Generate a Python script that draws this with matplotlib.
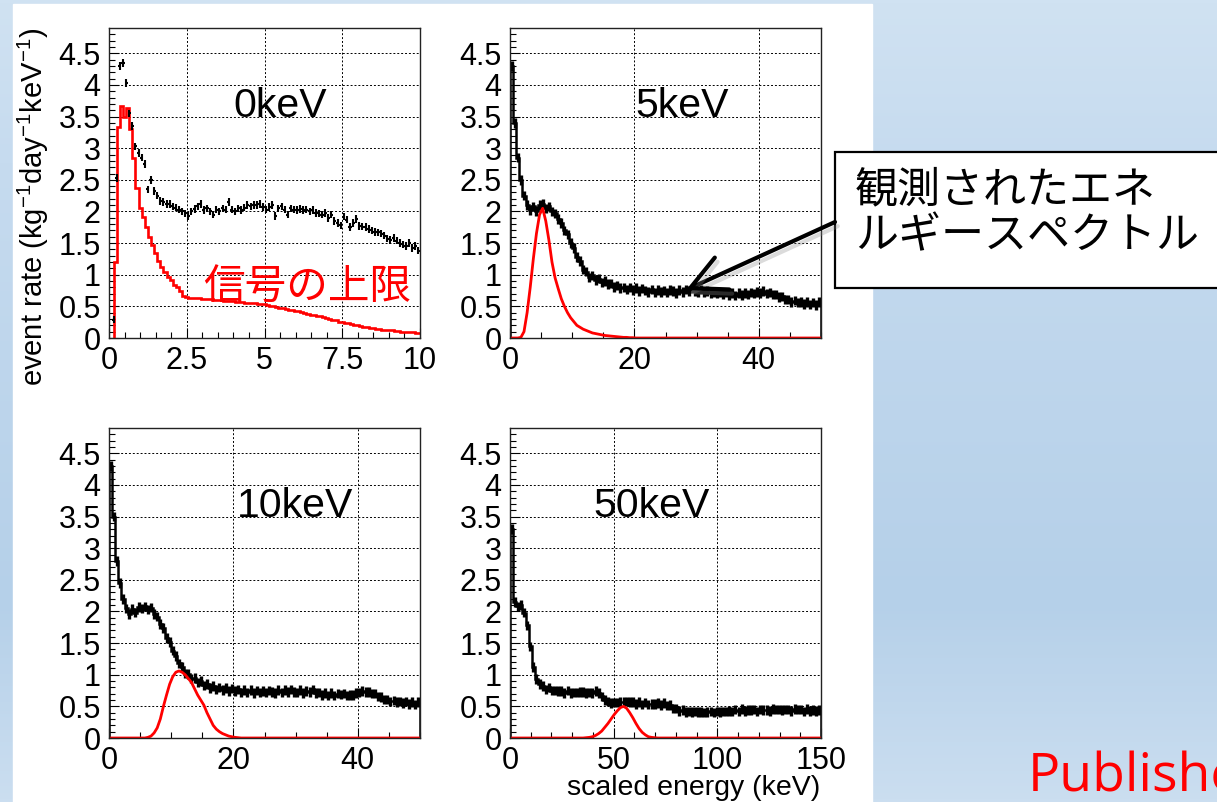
import numpy as np
import matplotlib
matplotlib.use("Agg")
import matplotlib.pyplot as plt
from matplotlib.patches import Rectangle, FancyArrowPatch
from matplotlib.colors import LinearSegmentedColormap
import matplotlib.patheffects as pe

plt.rcParams["font.family"] = ["Liberation Sans", "Noto Sans CJK JP"]
plt.rcParams["mathtext.fontset"] = "custom"
plt.rcParams["mathtext.rm"] = "Liberation Sans"
plt.rcParams["mathtext.it"] = "Liberation Sans"
plt.rcParams["mathtext.bf"] = "Liberation Sans:bold"

W, H = 1217, 802

# ── Data ─────────────────────────────────────────────────────────────────────
# 0 keV panel: 0.1 keV bins starting at 0.15 keV
P0_START, P0_WIDTH = 0.15, 0.1
P0_BLACK = [0.29, 2.53, 4.30, 4.35, 4.03, 3.55, 3.35, 3.03, 2.92, 2.85,
            2.75, 2.35, 2.50, 2.32, 2.25, 2.17, 2.15, 2.12, 2.12, 2.08,
            2.06, 2.03, 2.00, 1.97, 1.93, 2.00, 2.04, 2.08, 2.12, 2.02,
            2.05, 2.00, 1.95, 2.03, 2.00, 2.05, 2.03, 2.15, 2.03, 2.00,
            2.05, 2.02, 2.06, 2.10, 2.08, 2.10, 2.10, 2.12, 2.07, 2.03,
            2.07, 2.10, 1.93, 2.05, 2.08, 2.03, 1.95, 2.05, 2.03, 2.02,
            2.04, 2.02, 2.03, 2.00, 2.02, 1.98, 1.97, 1.95, 1.98, 1.90,
            1.95, 1.85, 1.82, 1.78, 1.92, 1.87, 1.75, 1.82, 1.88, 1.77,
            1.76, 1.75, 1.72, 1.70, 1.68, 1.67, 1.65, 1.62, 1.57, 1.55,
            1.58, 1.54, 1.50, 1.48, 1.45, 1.50, 1.42, 1.45, 1.38]
P0_RED = [1.20, 3.34, 3.66, 3.50, 3.63, 3.30, 2.84, 2.37, 2.05, 1.92,
          1.76, 1.60, 1.47, 1.34, 1.21, 1.13, 1.05, 0.97, 0.92, 0.84,
          0.80, 0.74, 0.67, 0.65, 0.64, 0.63, 0.63, 0.63, 0.62, 0.62,
          0.61, 0.61, 0.60, 0.60, 0.60, 0.59, 0.59, 0.58, 0.58, 0.57,
          0.57, 0.57, 0.56, 0.56, 0.55, 0.55, 0.54, 0.54, 0.53, 0.52,
          0.51, 0.50, 0.49, 0.48, 0.47, 0.46, 0.45, 0.44, 0.43, 0.42,
          0.41, 0.39, 0.38, 0.37, 0.36, 0.35, 0.34, 0.33, 0.31, 0.30,
          0.29, 0.28, 0.26, 0.25, 0.24, 0.23, 0.22, 0.21, 0.20, 0.19,
          0.18, 0.17, 0.16, 0.16, 0.15, 0.14, 0.13, 0.13, 0.12, 0.12,
          0.11, 0.11, 0.10, 0.10, 0.10, 0.09, 0.09, 0.08, 0.08]
P0_ERR = 0.06

# 5 keV panel: 0.5 keV bins, 0-50 keV
P5_BLACK = [4.30, 3.40, 2.85, 2.50, 2.25, 2.10, 2.02, 2.08, 2.01, 2.10,
            2.12, 2.05, 2.08, 2.00, 1.97, 1.88, 1.82, 1.70, 1.64, 1.50,
            1.42, 1.28, 1.22, 1.08, 1.05, 0.96, 0.99, 0.92, 0.94, 0.88,
            0.90, 0.85, 0.86, 0.81, 0.83, 0.79, 0.80, 0.77, 0.80, 0.76,
            0.79, 0.74, 0.78, 0.75, 0.73, 0.77, 0.72, 0.76, 0.73, 0.75,
            0.72, 0.76, 0.74, 0.71, 0.76, 0.73, 0.77, 0.74, 0.78, 0.74,
            0.73, 0.77, 0.72, 0.74, 0.71, 0.73, 0.70, 0.72, 0.69, 0.72,
            0.68, 0.71, 0.67, 0.71, 0.68, 0.71, 0.69, 0.72, 0.70, 0.73,
            0.71, 0.74, 0.70, 0.72, 0.69, 0.69, 0.65, 0.66, 0.61, 0.61,
            0.57, 0.59, 0.56, 0.57, 0.54, 0.57, 0.53, 0.56, 0.52, 0.57]
P5_RED = ([0.0, 0.0, 0.0] +
          [0.01, 0.10, 0.40, 0.80, 1.25, 1.65, 1.95, 2.05, 1.85, 1.55,
           1.20, 0.95, 0.78, 0.62, 0.50, 0.40, 0.32, 0.26, 0.20, 0.17,
           0.14, 0.12, 0.10, 0.08, 0.07, 0.06, 0.05, 0.04, 0.035, 0.03,
           0.025, 0.02, 0.015, 0.01, 0.01, 0.005, 0.005] +
          [0.0] * 60)

# 10 keV panel: 0.5 keV bins, 0-50 keV
P10_BLACK = [4.30, 3.50, 2.80, 2.45, 2.20, 2.05, 1.96, 2.04, 1.98, 2.07,
             2.05, 2.08, 2.03, 2.06, 1.96, 1.92, 1.80, 1.74, 1.58, 1.52,
             1.38, 1.30, 1.18, 1.12, 1.02, 1.01, 0.94, 0.95, 0.88, 0.90,
             0.83, 0.85, 0.79, 0.82, 0.77, 0.80, 0.76, 0.79, 0.74, 0.78,
             0.74, 0.77, 0.72, 0.76, 0.72, 0.76, 0.71, 0.75, 0.72, 0.74,
             0.72, 0.75, 0.73, 0.71, 0.76, 0.72, 0.76, 0.73, 0.77, 0.73,
             0.72, 0.76, 0.71, 0.74, 0.73, 0.77, 0.71, 0.72, 0.68, 0.71,
             0.67, 0.71, 0.67, 0.70, 0.69, 0.70, 0.67, 0.68, 0.68, 0.71,
             0.72, 0.74, 0.73, 0.73, 0.70, 0.70, 0.66, 0.65, 0.61, 0.61,
             0.58, 0.59, 0.57, 0.58, 0.55, 0.58, 0.54, 0.57, 0.53, 0.57]
P10_RED = ([0.0] * 12 +
           [0.01, 0.03, 0.08, 0.16, 0.30, 0.50, 0.68, 0.85, 0.97, 1.04,
            1.06, 1.04, 1.00, 0.94, 0.88, 0.78, 0.68, 0.60, 0.52, 0.40,
            0.30, 0.20, 0.14, 0.10, 0.07, 0.05, 0.03, 0.02, 0.01, 0.005] +
           [0.0] * 58)

# 50 keV panel: 1.5 keV bins, 0-150 keV
P50_BLACK = [3.30, 2.15, 2.08, 2.10, 1.98, 1.78, 1.45, 1.12, 0.93, 0.85,
             0.82, 0.77, 0.80, 0.75, 0.75, 0.74, 0.74, 0.71, 0.75, 0.71,
             0.72, 0.72, 0.73, 0.73, 0.71, 0.72, 0.71, 0.74, 0.71, 0.66,
             0.60, 0.58, 0.55, 0.56, 0.56, 0.57, 0.57, 0.58, 0.57, 0.57,
             0.54, 0.57, 0.53, 0.56, 0.53, 0.54, 0.54, 0.55, 0.52, 0.55,
             0.51, 0.52, 0.47, 0.47, 0.43, 0.44, 0.41, 0.42, 0.41, 0.42,
             0.41, 0.41, 0.40, 0.41, 0.42, 0.40, 0.42, 0.41, 0.42, 0.42,
             0.43, 0.42, 0.45, 0.42, 0.46, 0.43, 0.44, 0.44, 0.45, 0.42,
             0.45, 0.44, 0.44, 0.43, 0.46, 0.45, 0.45, 0.44, 0.45, 0.45,
             0.43, 0.46, 0.45, 0.45, 0.42, 0.46, 0.43, 0.44, 0.43, 0.44]
P50_RED = ([0.0] * 24 +
           [0.005, 0.01, 0.02, 0.04, 0.07, 0.11, 0.17, 0.23, 0.30, 0.37,
            0.43, 0.48, 0.50, 0.47, 0.40, 0.32, 0.23, 0.15, 0.09, 0.05,
            0.02, 0.01, 0.005, 0.0] +
           [0.0] * 52)
DENSE_ERR = 0.075

Y_TICKS = [0, 0.5, 1, 1.5, 2, 2.5, 3, 3.5, 4, 4.5]
Y_LABELS = ["0", "0.5", "1", "1.5", "2", "2.5", "3", "3.5", "4", "4.5"]

# ── Figure & background ─────────────────────────────────────────────────────
fig = plt.figure(figsize=(W / 100, H / 100), dpi=100)

def fx(x):
    return x / W

def fy(y):
    return 1 - y / H

bg = fig.add_axes([0, 0, 1, 1], zorder=-5)
cmap = LinearSegmentedColormap.from_list(
    "slide", [(0, "#d0e2f2"), (0.2, "#c6dbef"), (0.75, "#b5d0e9"), (1.0, "#cbdef0")])
bg.imshow(np.linspace(0, 1, 256).reshape(-1, 1), aspect="auto", cmap=cmap,
          extent=[0, 1, 0, 1])
bg.add_patch(Rectangle((fx(13), 0), fx(872) - fx(13), fy(4), color="white"))
bg.set_xlim(0, 1)
bg.set_ylim(0, 1)
bg.axis("off")

# ── Panels ──────────────────────────────────────────────────────────────────
def panel(left, top, xmax, xmaj, xlab, xmin_step):
    ax = fig.add_axes([fx(left), fy(top + 310), 311 / W, 310 / H])
    ax.set_xlim(0, xmax)
    ax.set_ylim(0, 4.9)
    ax.set_xticks(xmaj)
    ax.set_xticklabels(xlab)
    ax.set_xticks(np.arange(0, xmax + 1e-9, xmin_step), minor=True)
    ax.set_yticks(Y_TICKS)
    ax.set_yticklabels(Y_LABELS)
    ax.set_yticks(np.arange(0, 4.9, 0.1), minor=True)
    ax.tick_params(which="both", direction="in", top=False, right=False,
                   labelsize=22, pad=6, width=0.8, color="black")
    ax.tick_params(which="major", length=7)
    ax.tick_params(which="minor", length=4)
    ax.grid(True, which="major", color="black", ls=(0, (2, 2)), lw=0.7)
    ax.set_axisbelow(True)
    for s in ax.spines.values():
        s.set_linewidth(1.0)
        s.set_color("#222222")
    return ax

def dense(ax, xmax, black, red):
    edges = np.linspace(0, xmax, len(black) + 1)
    centers = (edges[:-1] + edges[1:]) / 2
    ax.stairs(black, edges, color="black", lw=1.8)
    ax.errorbar(centers, black, yerr=DENSE_ERR, fmt="none",
                ecolor="black", elinewidth=2.4, capsize=0)
    red_edges = np.linspace(0, xmax, len(red) + 1)
    red_c = (red_edges[:-1] + red_edges[1:]) / 2
    ax.plot(np.r_[0, red_c, xmax], np.r_[0, red, 0], color="red", lw=2.0,
            solid_joinstyle="round")

# 0 keV
ax1 = panel(109, 28, 10, [0, 2.5, 5, 7.5, 10], ["0", "2.5", "5", "7.5", "10"], 0.5)
c0 = P0_START + P0_WIDTH * np.arange(len(P0_BLACK))
ax1.errorbar(c0, P0_BLACK, xerr=P0_WIDTH / 2, yerr=P0_ERR, fmt="none",
             ecolor="black", elinewidth=1.5, capsize=0)
e0 = P0_START + P0_WIDTH * np.arange(len(P0_RED) + 1)
ax1.stairs(P0_RED, e0, color="red", lw=1.9, baseline=0)

# 5 keV
ax2 = panel(510, 28, 50, [0, 20, 40], ["0", "20", "40"], 5)
dense(ax2, 50, P5_BLACK, P5_RED)

# 10 keV
ax3 = panel(109, 428, 50, [0, 20, 40], ["0", "20", "40"], 5)
dense(ax3, 50, P10_BLACK, P10_RED)

# 50 keV
ax4 = panel(510, 428, 150, [0, 50, 100, 150], ["0", "50", "100", "150"], 10)
dense(ax4, 150, P50_BLACK, P50_RED)

# ── Texts ───────────────────────────────────────────────────────────────────
for txt, x, y in [("0keV", 233, 117), ("5keV", 635, 117),
                  ("10keV", 237, 517), ("50keV", 593, 517)]:
    fig.text(fx(x), fy(y), txt, fontsize=29.5, ha="left", va="baseline")

fig.text(fx(33), fy(207), "event rate (kg$^{-1}$day$^{-1}$keV$^{-1}$)",
         rotation=90, fontsize=21, ha="center", va="center")
fig.text(fx(820), fy(795), "scaled energy (keV)", fontsize=20.5,
         ha="right", va="baseline")

fig.text(fx(307), fy(287), "信号の上限", color="red", fontsize=30,
         family="Noto Sans CJK JP", ha="center", va="center")

# callout box + arrow
fig.add_artist(Rectangle((fx(835), fy(288)), fx(1240) - fx(835), (288 - 152) / H,
                         transform=fig.transFigure, facecolor="white",
                         edgecolor="black", lw=1.6, zorder=5))
fig.text(fx(855), fy(190), "観測されたエネ", fontsize=31, family="Noto Sans CJK JP",
         ha="left", va="center", zorder=6)
fig.text(fx(855), fy(236), "ルギースペクトル", fontsize=31, family="Noto Sans CJK JP",
         ha="left", va="center", zorder=6)
arrow = FancyArrowPatch((fx(835), fy(222)), (fx(686), fy(290)),
                        transform=fig.transFigure,
                        arrowstyle="->,head_length=0.9,head_width=0.45",
                        mutation_scale=28, lw=3, color="black",
                        shrinkA=0, shrinkB=0, zorder=6)
arrow.set_path_effects([pe.SimpleLineShadow(offset=(2, -3), shadow_color="#888888",
                                            alpha=0.3),
                        pe.Normal()])
fig.add_artist(arrow)

fig.text(fx(1028), fy(792), "Publishe", color="red", fontsize=38.5,
         family="Open Sans", ha="left", va="baseline")

fig.savefig("out.png", dpi=100)
